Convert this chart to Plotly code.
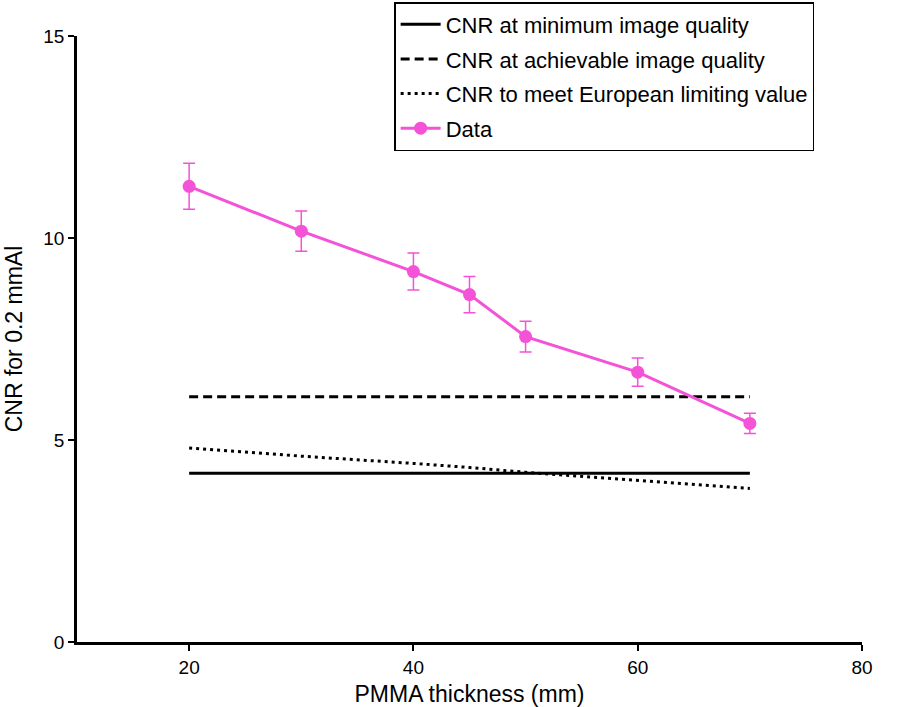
import plotly.graph_objects as go

thickness = [20, 30, 40, 45, 50, 60, 70]
cnr_data = [11.28, 10.17, 9.17, 8.6, 7.56, 6.68, 5.41]
cnr_err = [0.57, 0.5, 0.46, 0.45, 0.38, 0.35, 0.25]
cnr_min = [4.18, 4.18, 4.18, 4.18, 4.18, 4.18, 4.18]
cnr_achv = [6.07, 6.07, 6.07, 6.07, 6.07, 6.07, 6.07]
cnr_euro = [4.8, 4.6, 4.42, 4.32, 4.2, 4.0, 3.8]

pink = "#F452D7"
fig = go.Figure()
fig.add_trace(go.Scatter(x=thickness, y=cnr_min, mode="lines", name="CNR at minimum image quality",
                         legendgroup="a", line=dict(color="black", width=3)))
fig.add_trace(go.Scatter(x=thickness, y=cnr_achv, mode="lines", name="CNR at achievable image quality",
                         legendgroup="b", line=dict(color="black", width=3, dash="9px,5px")))
fig.add_trace(go.Scatter(x=thickness, y=cnr_euro, mode="lines", name="CNR to meet European limiting value",
                         legendgroup="c", line=dict(color="black", width=3, dash="3px,4px")))
fig.add_trace(go.Scatter(x=thickness, y=cnr_data, mode="lines+markers", name="Data",
                         legendgroup="d", line=dict(color=pink, width=3),
                         marker=dict(color=pink, size=13),
                         error_y=dict(type="data", array=cnr_err, color=pink, thickness=1.5, width=6)))

fig.update_layout(
    width=904, height=707,
    margin=dict(l=77, r=42, t=36, b=65, autoexpand=False),
    plot_bgcolor="white", paper_bgcolor="white",
    font=dict(family="Liberation Sans, Arial, sans-serif", color="black", size=19),
    showlegend=True,
    legend=dict(x=0.404, y=1.056, xanchor="left", yanchor="top",
                bordercolor="black", borderwidth=1.5, bgcolor="white",
                font=dict(size=22), traceorder="grouped", tracegroupgap=3, itemwidth=40),
)
fig.update_xaxes(range=[10, 80], tickvals=[20, 40, 60, 80], showgrid=False, zeroline=False,
                 showline=True, linecolor="black", linewidth=2.5, ticks="outside", ticklen=6,
                 tickwidth=2, tickcolor="black", tickfont=dict(size=19), automargin=False,
                 title=dict(text="PMMA thickness (mm)", font=dict(size=23)))
fig.update_yaxes(range=[0, 15], tickvals=[0, 5, 10, 15], showgrid=False, zeroline=False,
                 showline=True, linecolor="black", linewidth=2.5, ticks="outside", ticklen=6,
                 tickwidth=2, tickcolor="black", tickfont=dict(size=19), automargin=False,
                 title=dict(text="CNR for 0.2 mmAl", font=dict(size=23)))

fig.write_html("out.html")
